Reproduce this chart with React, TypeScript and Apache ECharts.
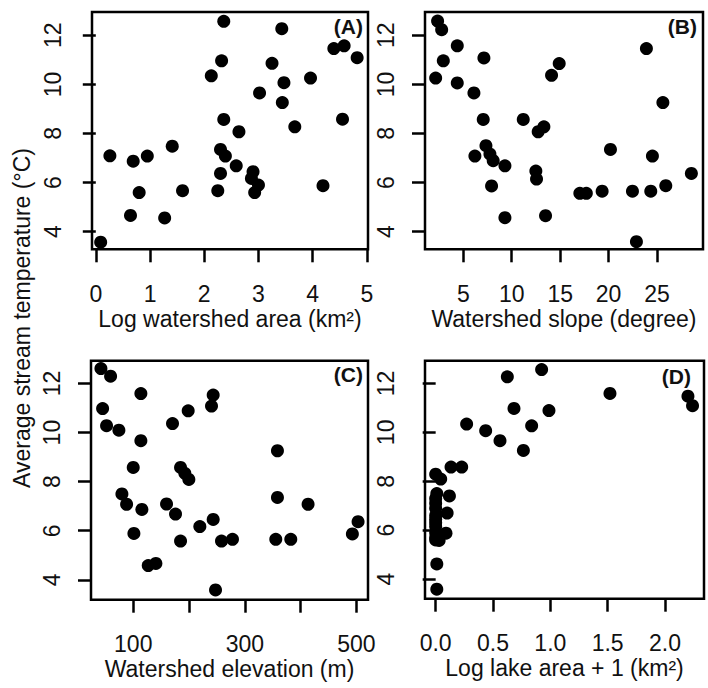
import React, { useEffect, useRef } from "react";
import * as echarts from "echarts";

// Panel A: log watershed area vs temperature
const areaData: number[][] = [
  [2.36, 12.57], [3.43, 12.27], [4.39, 11.46], [4.58, 11.57], [4.82, 11.09], [2.32, 10.96],
  [3.25, 10.86], [2.13, 10.35], [3.96, 10.26], [3.47, 10.07], [3.02, 9.65], [3.44, 9.26],
  [2.36, 8.57], [4.55, 8.58], [2.64, 8.07], [3.67, 8.27], [1.41, 7.48], [0.26, 7.09],
  [0.95, 7.08], [0.69, 6.87], [2.3, 7.35], [2.39, 7.08], [2.59, 6.68], [2.9, 6.44],
  [2.87, 6.17], [2.3, 6.37], [3.0, 5.9], [2.93, 5.59], [4.19, 5.87], [0.8, 5.59],
  [1.6, 5.67], [2.25, 5.67], [0.64, 4.66], [1.27, 4.56], [0.09, 3.57],
];
// Panel B: watershed slope vs temperature
const slopeData: number[][] = [
  [2.35, 12.58], [2.77, 12.23], [4.38, 11.57], [7.13, 11.08], [2.94, 10.96], [2.15, 10.26],
  [4.38, 10.06], [6.1, 9.65], [14.9, 10.85], [14.11, 10.37], [23.9, 11.46], [25.6, 9.26],
  [7.06, 8.57], [11.19, 8.57], [13.32, 8.27], [12.73, 8.07], [7.34, 7.5], [7.75, 7.16],
  [8.09, 6.89], [6.2, 7.08], [9.3, 6.68], [7.92, 5.86], [12.49, 6.47], [12.56, 6.14],
  [20.19, 7.35], [24.52, 7.08], [28.54, 6.37], [25.9, 5.87], [17.03, 5.56], [17.7, 5.56],
  [19.33, 5.65], [22.46, 5.65], [24.35, 5.65], [9.3, 4.57], [13.49, 4.65], [22.87, 3.59],
];
// Panel C: watershed elevation vs temperature
const elevData: number[][] = [
  [42.1, 12.61], [59.4, 12.3], [113.7, 11.59], [243.3, 11.53], [240.3, 11.08], [198.5, 10.89],
  [45.1, 10.98], [52.2, 10.28], [74.3, 10.1], [113.7, 9.67], [170.4, 10.37], [358.5, 9.26],
  [100, 8.58], [184.8, 8.58], [192.5, 8.34], [199.7, 8.09], [79.7, 7.5], [88.1, 7.08],
  [115.5, 6.87], [159.7, 7.09], [175.8, 6.68], [358.5, 7.36], [413.4, 7.08], [243.3, 6.46],
  [219.4, 6.17], [503, 6.37], [492.8, 5.87], [101.2, 5.89], [184.8, 5.58], [258.2, 5.58],
  [277.9, 5.65], [355.5, 5.65], [382.4, 5.65], [126.9, 4.58], [140.6, 4.67], [247.5, 3.59],
];
// Panel D: log lake area + 1 vs temperature
const lakeData: number[][] = [
  [0.924, 12.57], [0.625, 12.27], [1.52, 11.59], [2.2, 11.48], [2.24, 11.09], [0.683, 10.98],
  [0.988, 10.89], [0.27, 10.34], [0.436, 10.07], [0.837, 10.27], [0.561, 9.66], [0.765, 9.26],
  [0.134, 8.58], [0.227, 8.58], [0.0, 8.29], [0.044, 8.09], [0.01, 7.5], [0.12, 7.4],
  [0.0, 7.3], [0.0, 7.1], [0.0, 6.9], [0.1, 6.7], [0.0, 6.6], [0.0, 6.45], [0.0, 6.3],
  [0.0, 6.15], [0.09, 5.88], [0.0, 5.9], [0.0, 5.7], [0.03, 5.58], [0.0, 5.6],
  [0.01, 4.62], [0.01, 3.59],
];

const yTicks = [4, 6, 8, 10, 12];
const areaTicks = [0, 1, 2, 3, 4, 5];
const slopeTicks = [5, 10, 15, 20, 25];
const elevTicks = [100, 200, 300, 400, 500];
const elevLabels = [100, 300, 500];
const lakeTicks = [0, 0.5, 1.0, 1.5, 2.0];

const panelLetters = ["(A)", "(B)", "(C)", "(D)"];
const xTitles = [
  "Log watershed area (km²)",
  "Watershed slope (degree)",
  "Watershed elevation (m)",
  "Log lake area + 1 (km²)",
];
const yTitle = "Average stream temperature (°C)";

const FONT = "'Liberation Sans', Arial, Helvetica, sans-serif";

export default function App() {
  const ref = useRef<HTMLDivElement>(null);
  useEffect(() => {
    if (!ref.current) return;
    const chart = echarts.init(ref.current, undefined, { renderer: "svg" });

    const grids = [
      { left: 92, top: 12, width: 276, height: 237.3 },
      { left: 425, top: 12, width: 278, height: 237.3 },
      { left: 91, top: 360.7, width: 277, height: 239 },
      { left: 425, top: 360.7, width: 279, height: 238 },
    ].map((g) => ({
      ...g,
      show: true,
      borderColor: "#000",
      borderWidth: 2.5,
      backgroundColor: "transparent",
    }));

    const xExt = [
      [-0.07, 5.02],
      [1.05, 29.74],
      [24.3, 520.8],
      [-0.093, 2.34],
    ];
    const yExt = [
      [3.28, 12.95],
      [3.28, 12.95],
      [3.19, 12.93],
      [3.2, 12.93],
    ];
    const xTickSets = [areaTicks, slopeTicks, elevTicks, lakeTicks];
    const xLabelSets = [areaTicks, slopeTicks, elevLabels, lakeTicks];
    const xFormat = [
      (v: number) => String(v),
      (v: number) => String(v),
      (v: number) => String(v),
      (v: number) => v.toFixed(1),
    ];

    const tickStyle = { show: true, inside: false, length: 13, lineStyle: { color: "#000", width: 2.5 } };
    const labelText = { color: "#111", fontSize: 23, fontFamily: FONT };

    const xAxis = [0, 1, 2, 3].map((i) => ({
      type: "value",
      gridIndex: i,
      min: xExt[i][0],
      max: xExt[i][1],
      splitLine: { show: false },
      axisLine: { show: false },
      axisTick: { ...tickStyle, customValues: xTickSets[i] },
      axisLabel: {
        ...labelText,
        margin: 33,
        customValues: xLabelSets[i],
        formatter: xFormat[i],
      },
      name: xTitles[i],
      nameLocation: "middle",
      nameGap: 58,
      nameTextStyle: { ...labelText },
    }));

    const yAxis = [0, 1, 2, 3].map((i) => ({
      type: "value",
      gridIndex: i,
      min: yExt[i][0],
      max: yExt[i][1],
      splitLine: { show: false },
      axisLine: { show: false },
      axisTick: { ...tickStyle, customValues: yTicks },
      axisLabel: {
        ...labelText,
        rotate: 90,
        margin: 28,
        customValues: yTicks,
      },
    }));

    const datasets = [areaData, slopeData, elevData, lakeData];
    const series = datasets.map((d, i) => ({
      type: "scatter",
      xAxisIndex: i,
      yAxisIndex: i,
      data: d,
      symbol: "circle",
      symbolSize: 13,
      itemStyle: { color: "#000", opacity: 1 },
      emphasis: { disabled: true },
    }));

    const letterPos = [
      [363, 16],
      [697, 16],
      [363, 364],
      [691, 366],
    ];
    const graphic: any[] = panelLetters.map((t, i) => ({
      type: "text",
      x: letterPos[i][0],
      y: letterPos[i][1],
      style: {
        text: t,
        fill: "#111",
        font: `bold 21px ${FONT}`,
        align: "right",
        verticalAlign: "top",
      },
    }));
    graphic.push({
      type: "text",
      x: 22,
      y: 318,
      rotation: Math.PI / 2,
      style: {
        text: yTitle,
        fill: "#111",
        font: `23px ${FONT}`,
        align: "center",
        verticalAlign: "middle",
      },
    });

    chart.setOption({
      animation: false,
      backgroundColor: "#fff",
      grid: grids,
      xAxis,
      yAxis,
      series,
      graphic,
    } as any);

    return () => chart.dispose();
  }, []);

  return (
    <div
      ref={ref}
      style={{ position: "absolute", left: 0, top: 0, width: 708, height: 688 }}
    />
  );
}
